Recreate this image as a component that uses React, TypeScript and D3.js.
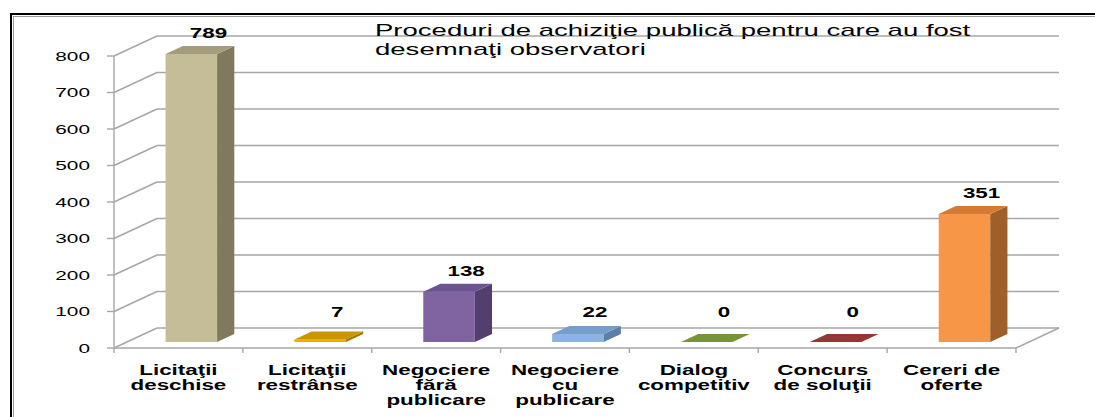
import React from "react";
import * as d3 from "d3";

const categories = [
  "Licitaţii\ndeschise",
  "Licitaţii\nrestrânse",
  "Negociere\nfără\npublicare",
  "Negociere\ncu\npublicare",
  "Dialog\ncompetitiv",
  "Concurs\nde soluţii",
  "Cereri de\noferte",
];
const values = [789, 7, 138, 22, 0, 0, 351];
const yTicks = [0, 100, 200, 300, 400, 500, 600, 700, 800];
const titleLines = ["Proceduri de achiziţie publică pentru care au fost", "desemnaţi observatori"];
const barColors = [
  { front: "#C4BD97", top: "#A39D7E", side: "#7F7A5E" },
  { front: "#E8AE00", top: "#C99600", side: "#9E7600" },
  { front: "#8064A2", top: "#6C5490", side: "#533F6E" },
  { front: "#8DB3E2", top: "#779DCB", side: "#5E7FA8" },
  { front: "#9BBB59", top: "#77933C", side: "#5E7530" },
  { front: "#C0504D", top: "#953735", side: "#772A28" },
  { front: "#F79646", top: "#D47A35", side: "#9E5F2B" },
];

const W = 1095;
const H = 417;
const DX = 43;
const DY = -20;
const SX = 1.6;
const FONT = "'Liberation Sans', Arial, sans-serif";
const GRID = "#A6A6A6";

function T({ x, y, anchor = "middle", size = 13, bold = false, sx = SX, children }: any) {
  return (
    <text
      transform={`translate(${x},${y}) scale(${sx},1)`}
      textAnchor={anchor}
      fontFamily={FONT}
      fontSize={size}
      fontWeight={bold ? "bold" : "normal"}
      fill="#000"
    >
      {children}
    </text>
  );
}

export default function App() {
  const x = d3.scaleBand<number>().domain(categories.map((_, i) => i)).range([114, 1016]);
  const y = d3.scaleLinear().domain([0, 800]).range([348, 56]);
  const bw = x.bandwidth();
  const barW = bw * 0.4;
  const f0 = 0.3;
  const fd = 0.4;
  const y0 = y(0);
  const xL = x.range()[0];
  const xR = x.range()[1];

  return (
    <svg width={W} height={H} style={{ position: "absolute", left: 0, top: 0 }}>
      <rect x={0} y={0} width={W} height={H} fill="#fff" />
      <rect x={11} y={14} width={W + 20} height={H + 20} fill="#fff" stroke="#000" strokeWidth={2} />
      <rect x={13.5} y={16.5} width={W + 20} height={H + 20} fill="none" stroke="#999" strokeWidth={1} />

      {/* back wall gridlines and side wall */}
      {yTicks.map((t) => (
        <g key={t}>
          <line x1={xL + DX} x2={xR + DX} y1={y(t) + DY} y2={y(t) + DY} stroke={GRID} strokeWidth={1.4} />
          <line x1={xL} x2={xL + DX} y1={y(t)} y2={y(t) + DY} stroke={GRID} strokeWidth={1.4} />
          <line x1={xL - 7} x2={xL} y1={y(t)} y2={y(t)} stroke={GRID} strokeWidth={1.4} />
          <T x={90} y={y(t) + 4.5} anchor="end" size={13}>
            {t}
          </T>
        </g>
      ))}
      {/* front axis */}
      <line x1={xL} x2={xL} y1={y(800)} y2={y0} stroke={GRID} strokeWidth={1.4} />
      <line x1={xL} x2={xR} y1={y0} y2={y0} stroke={GRID} strokeWidth={1.4} />
      <line x1={xR} x2={xR + DX} y1={y0} y2={y0 + DY} stroke={GRID} strokeWidth={1.4} />
      {categories.map((_, i) => (
        <line key={i} x1={x(i)!} x2={x(i)!} y1={y0} y2={y0 + 5} stroke={GRID} strokeWidth={1.4} />
      ))}
      <line x1={xR} x2={xR} y1={y0} y2={y0 + 5} stroke={GRID} strokeWidth={1.4} />

      {/* title */}
      {titleLines.map((l, i) => (
        <T key={i} x={375} y={36 + i * 19} anchor="start" size={17} sx={1.62}>
          {l}
        </T>
      ))}

      {/* bars */}
      {values.map((v, i) => {
        const c = barColors[i];
        const cx = x(i)! + bw / 2;
        const fx0 = cx - barW / 2 + DX * f0;
        const fx1 = fx0 + barW;
        const yT = y(v) + DY * f0;
        const yB = y0 + DY * f0;
        const dx = DX * fd;
        const dy = DY * fd;
        const top = [
          [fx0, yT],
          [fx1, yT],
          [fx1 + dx, yT + dy],
          [fx0 + dx, yT + dy],
        ];
        const side = [
          [fx1, yT],
          [fx1 + dx, yT + dy],
          [fx1 + dx, yB + dy],
          [fx1, yB],
        ];
        const backTop = yT + dy;
        const ly = Math.min(backTop - 13, 312) + 5;
        return (
          <g key={i}>
            {v > 0 && (
              <>
                <rect x={fx0} y={yT} width={barW} height={yB - yT} fill={c.front} />
                <polygon points={side.map((p) => p.join(",")).join(" ")} fill={c.side} />
              </>
            )}
            <polygon points={top.map((p) => p.join(",")).join(" ")} fill={c.top} />
            <T x={cx + 30} y={ly} size={14} bold>
              {v}
            </T>
          </g>
        );
      })}

      {/* category labels */}
      {categories.map((cat, i) => {
        const cx = x(i)! + bw / 2;
        return (
          <g key={i}>
            {cat.split("\n").map((line, j) => (
              <T key={j} x={cx} y={375 + j * 15} size={14} bold>
                {line}
              </T>
            ))}
          </g>
        );
      })}
    </svg>
  );
}
